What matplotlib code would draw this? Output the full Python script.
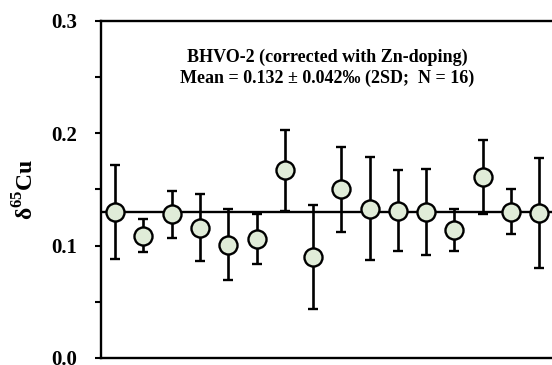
import numpy as np
import matplotlib
matplotlib.use("Agg")
import matplotlib.pyplot as plt
from matplotlib.ticker import MultipleLocator

run_index = list(range(1, 17))
d65cu = [0.130, 0.109, 0.128, 0.116, 0.101, 0.106, 0.167, 0.090,
         0.150, 0.133, 0.131, 0.130, 0.114, 0.161, 0.130, 0.129]
err_2sd = [0.042, 0.015, 0.021, 0.030, 0.032, 0.022, 0.036, 0.046,
           0.038, 0.046, 0.036, 0.038, 0.019, 0.033, 0.020, 0.049]
mean_line = 0.130
y_ticks = [0.0, 0.1, 0.2, 0.3]

plt.rcParams["font.family"] = ["Liberation Serif", "DejaVu Serif"]
plt.rcParams["font.weight"] = "bold"
plt.rcParams["mathtext.fontset"] = "custom"
plt.rcParams["mathtext.rm"] = "Liberation Serif:bold"
plt.rcParams["mathtext.bf"] = "Liberation Serif:bold"

fig = plt.figure(figsize=(5.52, 3.65), dpi=100)
ax = fig.add_axes([0.183, 0.0192, 0.8195, 0.9233])

ax.axhline(mean_line, color="black", lw=1.7, zorder=1)
ax.errorbar(run_index, d65cu, yerr=err_2sd, fmt="o", ms=13,
            mfc="#e0ecd8", mec="black", mew=1.7,
            ecolor="black", elinewidth=1.9, capsize=3.8, capthick=1.9,
            zorder=2)

ax.set_xlim(0.5, 16.5)
ax.set_ylim(0.0, 0.3)
ax.set_yticks(y_ticks)
ax.set_yticklabels([f"{v:.1f}" for v in y_ticks])
ax.yaxis.set_minor_locator(MultipleLocator(0.05))
ax.tick_params(axis="y", which="both", direction="out", length=4, width=1.5,
               labelsize=15, pad=13)
ax.tick_params(axis="x", bottom=False, labelbottom=False)

for side in ["left", "top", "bottom"]:
    ax.spines[side].set_linewidth(1.7)
ax.spines["right"].set_visible(False)

ax.set_ylabel(r"δ$^{\mathbf{65}}$Cu", fontsize=17, fontweight="bold",
              labelpad=9)

ax.text(0.5, 0.862, "BHVO-2 (corrected with Zn-doping)\n"
        "Mean = 0.132 \u00b1 0.042\u2030 (2SD;  N = 16)",
        transform=ax.transAxes, ha="center", va="center", fontsize=13,
        fontweight="bold", linespacing=1.3)

fig.savefig("out.png", dpi=100)
